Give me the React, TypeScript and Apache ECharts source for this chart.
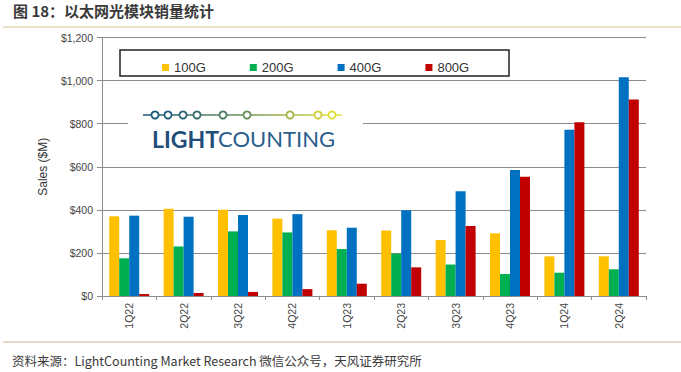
import React, { useEffect, useRef } from "react";
import * as echarts from "echarts";

const categories = ["1Q22", "2Q22", "3Q22", "4Q22", "1Q23", "2Q23", "3Q23", "4Q23", "1Q24", "2Q24"];
const s100G = [370, 405, 400, 359, 305, 304, 260, 291, 184, 184];
const s200G = [175, 230, 300, 295, 218, 197, 146, 102, 108, 124];
const s400G = [373, 368, 376, 380, 317, 398, 486, 585, 772, 1015];
const s800G = [9, 14, 19, 32, 57, 133, 325, 554, 806, 912];
const yTicks = [0, 200, 400, 600, 800, 1000, 1200];

const seriesNames = ["100G", "200G", "400G", "800G"];
const seriesColors = ["#FFC000", "#00B050", "#0070C0", "#C00000"];

const chainDots = [155, 168, 183, 197, 223, 247, 290, 318, 332];
const chainColors = ["#1d5a7c", "#225e79", "#2c6575", "#376c70", "#4c7c66", "#69905a", "#a6b748", "#cfcf3e", "#e0e03c"];

export default function App() {
  const ref = useRef<HTMLDivElement>(null);
  useEffect(() => {
    if (!ref.current) return;
    const chart = echarts.init(ref.current, null, { renderer: "svg" });
    const data = [s100G, s200G, s400G, s800G];
    const fmt = (v: number) => "$" + v.toLocaleString("en-US");
    const graphics: any[] = [
      {
        type: "text",
        left: 13,
        top: 3,
        style: { text: "图 18：以太网光模块销量统计", font: "bold 15px 'Noto Sans CJK SC'", fill: "#3a3a3a" },
      },
      { type: "line", shape: { x1: 3, y1: 27, x2: 681, y2: 27 }, style: { stroke: "#d8c49a", lineWidth: 1.2 } },
      { type: "line", shape: { x1: 3, y1: 342, x2: 681, y2: 342 }, style: { stroke: "#c9b48e", lineWidth: 1.2 } },
      {
        type: "text",
        x: 12,
        y: 360,
        style: {
          text: "资料来源：LightCounting Market Research 微信公众号，天风证券研究所",
          font: "12.5px 'Noto Sans CJK SC'",
          fill: "#3a3a3a",
          textVerticalAlign: "middle",
        },
      },
      { type: "rect", z: 5, shape: { x: 120, y: 50, width: 389, height: 26 }, style: { fill: "#fff", stroke: "#222", lineWidth: 1.5 } },
      { type: "rect", z: 5, shape: { x: 128, y: 90, width: 235, height: 68 }, style: { fill: "#fff" } },
      {
        type: "rect",
        z: 6,
        shape: { x: 143, y: 114.2, width: 199, height: 1.6 },
        style: {
          fill: new echarts.graphic.LinearGradient(0, 0, 1, 0, [
            { offset: 0, color: "#1d5a7c" },
            { offset: 0.5, color: "#6a905a" },
            { offset: 1, color: "#e6e63a" },
          ]),
        },
      },
      ...chainDots.map((cx, i) => ({
        type: "circle",
        z: 7,
        shape: { cx, cy: 115, r: 3.6 },
        style: { fill: "#fff", stroke: chainColors[i], lineWidth: 1.8 },
      })),
      {
        type: "text",
        z: 7,
        x: 152,
        y: 138.5,
        style: { text: "LIGHT", font: "bold 23px Lato", fill: "#1f4e79", textVerticalAlign: "middle" },
      },
      {
        type: "text",
        z: 7,
        x: 218,
        y: 138.5,
        style: { text: "COUNTING", font: "22px Lato", fill: "#2a5e8c", textVerticalAlign: "middle" },
      },
    ];
    chart.setOption({
      animation: false,
      backgroundColor: "#fff",
      textStyle: { fontFamily: "Arial, 'Liberation Sans', sans-serif" },
      grid: { left: 102, right: 35, top: 37.5, bottom: 76 },
      legend: {
        z: 10,
        left: 157,
        top: 56,
        itemWidth: 7,
        itemHeight: 7,
        itemGap: 44,
        icon: "rect",
        textStyle: { fontSize: 13, color: "#333", fontFamily: "Arial, 'Liberation Sans', sans-serif" },
        data: seriesNames,
      },
      xAxis: {
        type: "category",
        data: categories,
        axisLine: { lineStyle: { color: "#8c8c8c", width: 1 } },
        axisTick: { show: true, length: 4, lineStyle: { color: "#8c8c8c" } },
        axisLabel: { rotate: 90, fontSize: 10.5, color: "#444", margin: 7 },
      },
      yAxis: {
        type: "value",
        min: 0,
        max: yTicks[yTicks.length - 1],
        interval: 200,
        name: "Sales ($M)",
        nameLocation: "middle",
        nameRotate: 90,
        nameGap: 53,
        nameTextStyle: { fontSize: 12, color: "#333" },
        axisLine: { show: true, lineStyle: { color: "#8c8c8c" } },
        axisTick: { show: true, length: 5, lineStyle: { color: "#8c8c8c" } },
        splitLine: { lineStyle: { color: "#8c8c8c", width: 1 } },
        axisLabel: { fontSize: 10.5, color: "#444", margin: 9, formatter: fmt },
      },
      series: seriesNames.map((n, i) => ({
        name: n,
        type: "bar",
        data: data[i],
        barWidth: 10,
        barGap: "0%",
        itemStyle: { color: seriesColors[i] },
      })),
      graphic: graphics,
    });
    return () => chart.dispose();
  }, []);
  return <div ref={ref} style={{ position: "fixed", left: 0, top: 0, width: 681, height: 372 }} />;
}
